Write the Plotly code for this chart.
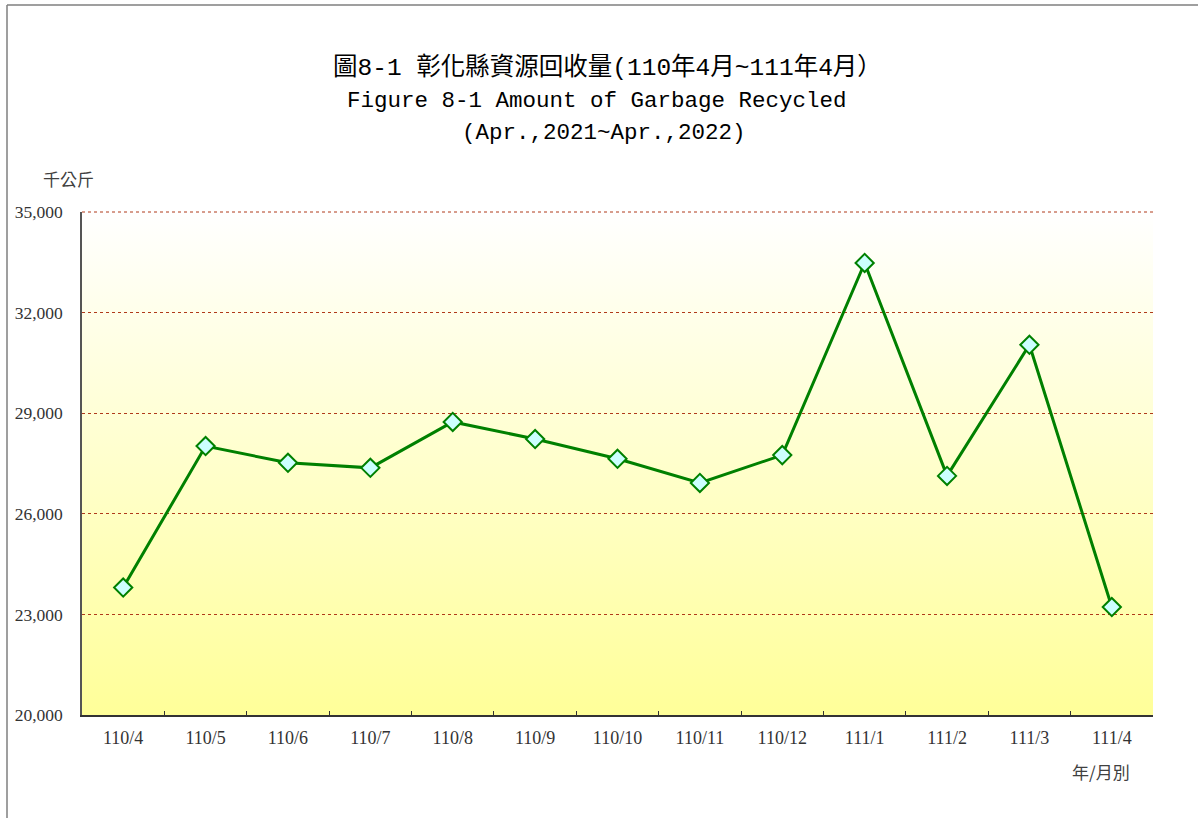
import base64
import plotly.graph_objects as go

months = ["110/4", "110/5", "110/6", "110/7", "110/8", "110/9", "110/10",
          "110/11", "110/12", "111/1", "111/2", "111/3", "111/4"]
recycled = [23800, 28020, 27520, 27370, 28740, 28230, 27640,
            26920, 27750, 33480, 27130, 31040, 23220]
y_ticks = [20000, 23000, 26000, 29000, 32000, 35000]
y_tick_text = ["20,000", "23,000", "26,000", "29,000", "32,000", "35,000"]

title_zh = "圖8-1 彰化縣資源回收量(110年4月~111年4月）"
title_en1 = "Figure 8-1 Amount of Garbage Recycled"
title_en2 = "(Apr.,2021~Apr.,2022)"
y_unit = "千公斤"
x_unit = "年/月別"

W, H = 1198, 818
L, R, T, B = 82, 1153, 212, 715

def px_x(px):
    return (px - L) / (R - L)

def px_y(py):
    return (B - py) / (B - T)

svg = ('<svg xmlns="http://www.w3.org/2000/svg" width="100" height="100" preserveAspectRatio="none">'
       '<defs><linearGradient id="g" x1="0" y1="0" x2="0" y2="1">'
       '<stop offset="0" stop-color="#FFFFFF"/><stop offset="1" stop-color="#FFFF99"/>'
       '</linearGradient></defs><rect width="100" height="100" fill="url(#g)"/></svg>')
svg_uri = "data:image/svg+xml;base64," + base64.b64encode(svg.encode()).decode()

grid_color = "#B03A1A"

fig = go.Figure()
fig.add_trace(go.Scatter(
    x=months, y=recycled, mode="lines+markers",
    line=dict(color="#008000", width=3),
    marker=dict(symbol="diamond", size=14, color="#CCFFFF",
                line=dict(color="#008000", width=2)),
    showlegend=False, hoverinfo="x+y",
))

fig.update_layout(
    width=W, height=H,
    margin=dict(l=L, r=W - R, t=T, b=H - B),
    paper_bgcolor="white", plot_bgcolor="rgba(0,0,0,0)",
    font=dict(family="Liberation Serif, Noto Sans CJK TC", color="#333333", size=18),
    images=[dict(source=svg_uri, xref="x domain", yref="y domain", x=0, y=1,
                 sizex=1, sizey=1, xanchor="left", yanchor="top",
                 sizing="stretch", layer="below")],
    xaxis=dict(
        type="category", tickson="boundaries", ticks="inside", ticklen=4,
        tickcolor="#333333", showgrid=False, showline=True, linecolor="#333333",
        linewidth=2, tickfont=dict(family="Liberation Serif", size=18, color="#333333"),
        ticklabelstandoff=5, range=[-0.5, len(months) - 0.5], zeroline=False,
    ),
    yaxis=dict(
        range=[20000, 35000], tickvals=y_ticks, ticktext=y_tick_text,
        showgrid=True, gridcolor=grid_color, griddash="dot", gridwidth=1,
        showline=True, linecolor="#555555", linewidth=1.5, ticks="",
        tickfont=dict(family="Liberation Serif", size=17.5, color="#333333"),
        ticklabelstandoff=14, zeroline=False,
    ),
    shapes=[
        dict(type="line", xref="x domain", yref="y domain", x0=0, x1=1, y0=1, y1=1,
             line=dict(color=grid_color, width=1, dash="dot"), layer="above"),
        dict(type="line", xref="paper", yref="paper", x0=px_x(7), x1=px_x(W + 5),
             y0=px_y(5), y1=px_y(5), line=dict(color="#7F7F7F", width=1.5)),
        dict(type="line", xref="paper", yref="paper", x0=px_x(7), x1=px_x(7),
             y0=px_y(5), y1=px_y(H + 5), line=dict(color="#7F7F7F", width=1.5)),
    ],
    annotations=[
        dict(text=title_zh, xref="paper", yref="paper", x=px_x(607), y=px_y(68),
             showarrow=False, xanchor="center", yanchor="middle",
             font=dict(family="Liberation Mono, Noto Sans CJK TC", size=24.5, color="black")),
        dict(text=title_en1, xref="paper", yref="paper", x=px_x(597), y=px_y(101),
             showarrow=False, xanchor="center", yanchor="middle",
             font=dict(family="Liberation Mono", size=22.5, color="black")),
        dict(text=title_en2, xref="paper", yref="paper", x=px_x(604), y=px_y(133),
             showarrow=False, xanchor="center", yanchor="middle",
             font=dict(family="Liberation Mono", size=22.5, color="black")),
        dict(text=y_unit, xref="paper", yref="paper", x=px_x(68), y=px_y(178),
             showarrow=False, xanchor="center", yanchor="middle",
             font=dict(family="Noto Sans CJK TC", size=17, color="#404040")),
        dict(text=x_unit, xref="paper", yref="paper", x=px_x(1101), y=px_y(771),
             showarrow=False, xanchor="center", yanchor="middle",
             font=dict(family="Noto Sans CJK TC", size=17, color="#404040")),
    ],
)

fig.write_html("out.html", config={"displayModeBar": False},
               post_script="document.body.style.margin='0px';")
